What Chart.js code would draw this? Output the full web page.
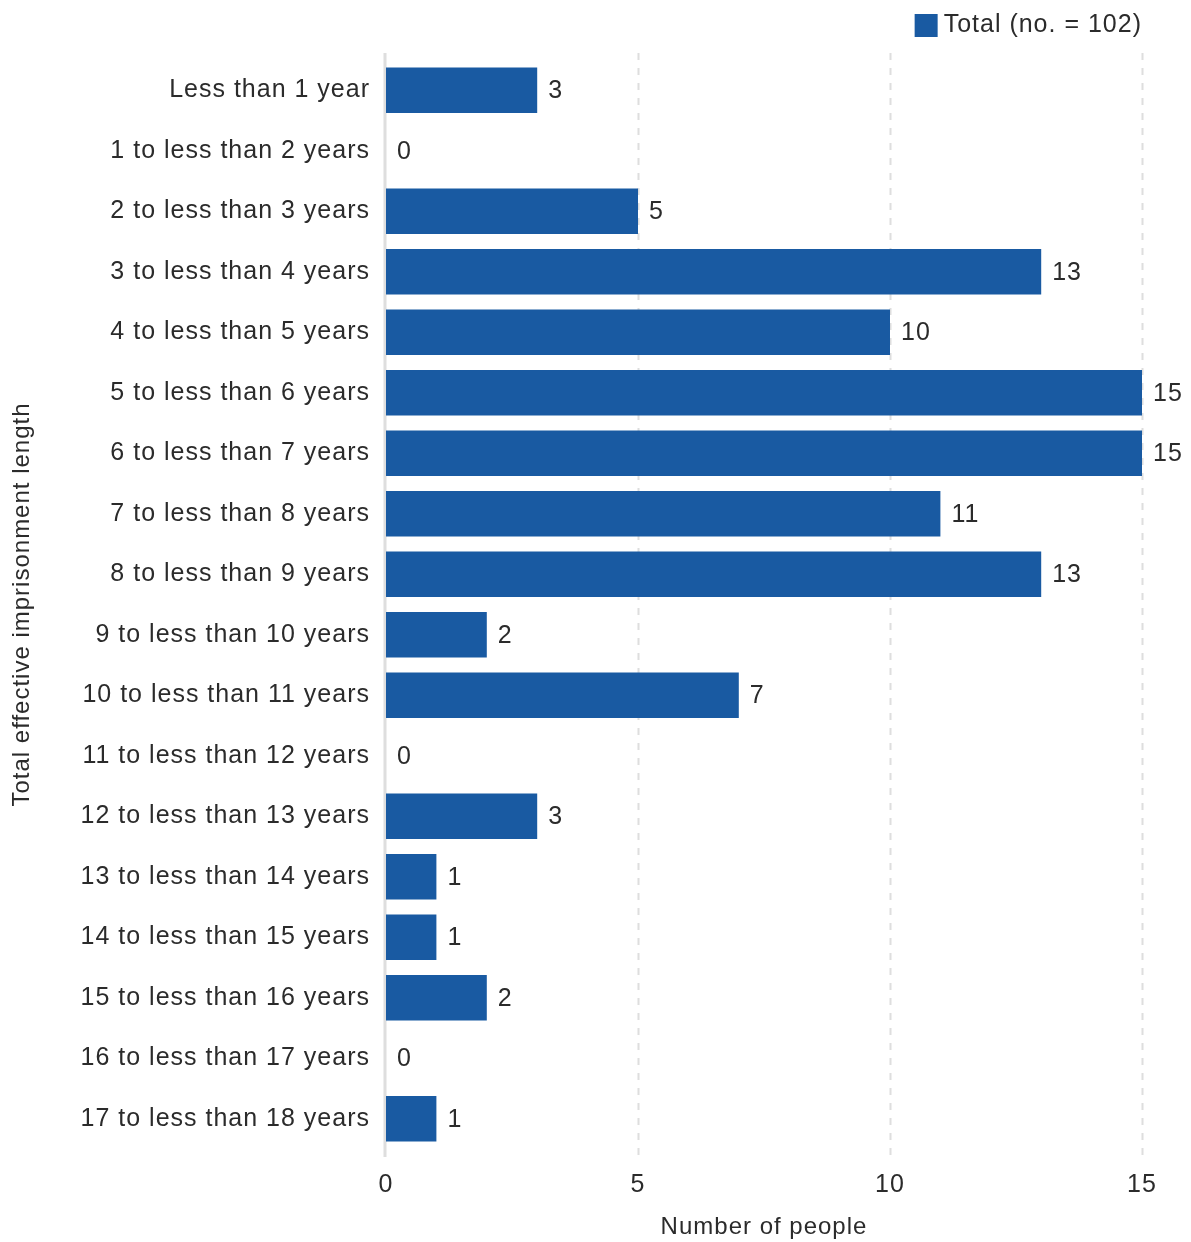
<!DOCTYPE html>
<html>
<head>
<meta charset="utf-8">
<title>Total effective imprisonment length</title>
<script src="https://cdn.jsdelivr.net/npm/chart.js@4/dist/chart.umd.min.js"></script>
<style>
  html, body { margin: 0; padding: 0; background: #ffffff; }
  #wrap { width: 1191px; height: 1242px; position: relative; }
</style>
</head>
<body>
<div id="wrap"><canvas id="chart" width="1191" height="1242"></canvas></div>
<script>
// Sentence length bands and number of people in each
const categories = [
  'Less than 1 year',
  '1 to less than 2 years',
  '2 to less than 3 years',
  '3 to less than 4 years',
  '4 to less than 5 years',
  '5 to less than 6 years',
  '6 to less than 7 years',
  '7 to less than 8 years',
  '8 to less than 9 years',
  '9 to less than 10 years',
  '10 to less than 11 years',
  '11 to less than 12 years',
  '12 to less than 13 years',
  '13 to less than 14 years',
  '14 to less than 15 years',
  '15 to less than 16 years',
  '16 to less than 17 years',
  '17 to less than 18 years'
];
const totalValues = [3, 0, 5, 13, 10, 15, 15, 11, 13, 2, 7, 0, 3, 1, 1, 2, 0, 1];
const seriesLabel = 'Total (no. = 102)';
const xTicks = [0, 5, 10, 15];
const xTitle = 'Number of people';
const yTitle = 'Total effective imprisonment length';

const FONT = "'Liberation Sans', Arial, sans-serif";
const TEXT = '#2b2b2b';
const BAR = '#195aa2';
const GRID = '#dedede';

// Slightly open tracking for all canvas text
const tracking = {
  id: 'tracking',
  beforeDraw(chart) { chart.ctx.letterSpacing = '1px'; }
};

// Dashed vertical gridlines and the left axis rule, drawn a little past the plot area
const gridPlugin = {
  id: 'gridRules',
  beforeDatasetsDraw(chart) {
    const { ctx, chartArea, scales } = chart;
    const top = chartArea.top - 7;
    const bottom = chartArea.bottom + 8;
    ctx.save();
    ctx.strokeStyle = GRID;
    ctx.lineWidth = 2;
    ctx.setLineDash([7, 8]);
    xTicks.slice(1).forEach(v => {
      const x = Math.round(scales.x.getPixelForValue(v)) + 0.5;
      ctx.beginPath();
      ctx.moveTo(x, top);
      ctx.lineTo(x, bottom);
      ctx.stroke();
    });
    ctx.setLineDash([]);
    ctx.lineWidth = 3;
    const x0 = scales.x.getPixelForValue(0) - 1;
    ctx.beginPath();
    ctx.moveTo(x0, top);
    ctx.lineTo(x0, bottom);
    ctx.stroke();
    ctx.restore();
  }
};

// Value labels at the end of each bar
const valueLabels = {
  id: 'valueLabels',
  afterDatasetsDraw(chart) {
    const { ctx } = chart;
    const meta = chart.getDatasetMeta(0);
    ctx.save();
    ctx.letterSpacing = '1px';
    ctx.font = '25px ' + FONT;
    ctx.fillStyle = TEXT;
    ctx.textAlign = 'left';
    ctx.textBaseline = 'middle';
    meta.data.forEach((bar, i) => {
      ctx.fillText(String(totalValues[i]), bar.x + 11, bar.y + 1);
    });
    ctx.restore();
  }
};

// Legend in the top-right corner
const cornerLegend = {
  id: 'cornerLegend',
  afterDraw(chart) {
    const { ctx } = chart;
    ctx.save();
    ctx.letterSpacing = '1px';
    ctx.font = '25px ' + FONT;
    const w = ctx.measureText(seriesLabel).width;
    const right = 1142;
    const textX = right - w;
    const boxX = textX - 29;
    ctx.fillStyle = BAR;
    ctx.fillRect(boxX, 14, 23, 23);
    ctx.fillStyle = TEXT;
    ctx.textBaseline = 'middle';
    ctx.fillText(seriesLabel, textX, 25);
    ctx.restore();
  }
};

new Chart(document.getElementById('chart'), {
  type: 'bar',
  data: {
    labels: categories,
    datasets: [{
      label: seriesLabel,
      data: totalValues,
      backgroundColor: BAR,
      borderWidth: 0,
      barPercentage: 0.755,
      categoryPercentage: 1.0
    }]
  },
  options: {
    indexAxis: 'y',
    responsive: false,
    animation: false,
    devicePixelRatio: 1,
    layout: { padding: { top: 60, right: 49, left: 0, bottom: 0 } },
    plugins: {
      legend: { display: false },
      tooltip: { enabled: false }
    },
    scales: {
      x: {
        type: 'linear',
        min: 0,
        max: 15,
        afterBuildTicks(scale) { scale.ticks = xTicks.map(v => ({ value: v })); },
        afterFit(scale) { scale.height = 93; },
        border: { display: false },
        grid: { display: false, drawTicks: false },
        ticks: { padding: 21, color: TEXT, font: { family: FONT, size: 25 } },
        title: {
          display: true,
          text: xTitle,
          color: TEXT,
          font: { family: FONT, size: 24 },
          padding: { top: 8, bottom: 0 }
        }
      },
      y: {
        afterFit(scale) { scale.width = 386; },
        border: { display: false },
        grid: { display: false, drawTicks: false },
        ticks: { padding: 16, color: TEXT, font: { family: FONT, size: 25 }, autoSkip: false },
        title: {
          display: true,
          text: yTitle,
          color: TEXT,
          font: { family: FONT, size: 24 },
          padding: { top: 8, bottom: 0 }
        }
      }
    }
  },
  plugins: [tracking, gridPlugin, valueLabels, cornerLegend]
});
</script>
</body>
</html>
